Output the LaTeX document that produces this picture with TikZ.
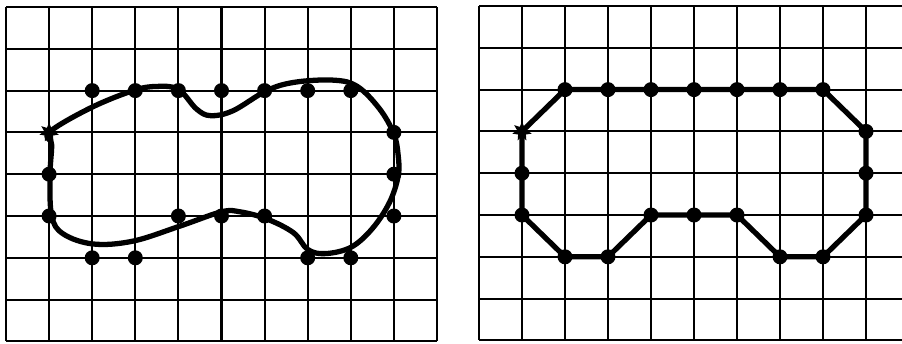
\documentclass[tikz,border=0pt]{standalone}
\usetikzlibrary{shapes.geometric}

\tikzset{
  rejilla/.style={line width=1.2pt},
  contorno/.style={line width=3pt, line join=round},
  punto/.style={circle, fill=black, inner sep=0pt, minimum size=0.3cm},
  inicio/.style={star, star points=7, star point ratio=2.0, fill=black, inner sep=0pt, minimum size=0.4cm},
}

\begin{document}
\begin{tikzpicture}
  \useasboundingbox (0,0) rectangle (18.04,-6.86);
  \clip (0,0) rectangle (18.04,-6.86);

  % contorno libre sobre la malla
  \begin{scope}[shift={(0.12,-0.14)}, x=0.862cm, y=-0.836cm]
    \foreach \i in {0,...,10} \draw[rejilla] (\i,0) -- (\i,8);
    \foreach \j in {0,...,8} \draw[rejilla] (0,\j) -- (10,\j);

    \draw[contorno] plot[smooth cycle, tension=0.6] coordinates {
      (1,3) (1.95,2.42) (2.95,2.0) (3.5,1.9) (4,1.97) (4.42,2.44) (4.75,2.6)
      (5.27,2.48) (6.05,2.0) (6.7,1.8) (7.6,1.75) (8.15,1.9) (8.67,2.44)
      (9.0,3.04) (9.1,3.56) (9.1,4.04) (8.9,4.67) (8.5,5.3) (8,5.75)
      (7.4,5.9) (7,5.8) (6.67,5.4) (6.05,5.07) (5.43,4.9) (5,4.9)
      (4.04,5.24) (2.95,5.6) (2.03,5.67) (1.33,5.43) (1.06,5) (1.02,4.04)
      (1.06,3.3)};

    \foreach \p [count=\k] in {(2,2),(3,2),(4,2),(5,2),(6,2),(7,2),(8,2),
        (9,3),(9,4),(9,5),(8,6),(7,6),(6,5),(5,5),(4,5),(3,6),(2,6),(1,5),(1,4)}
      \node[punto] (L\k) at \p {};
    \node[inicio] (L0) at (1,3) {};
  \end{scope}

  % poligono sobre los puntos de la malla
  \begin{scope}[shift={(9.58,-0.12)}, x=0.86cm, y=-0.836cm]
    \foreach \i in {0,...,10} \draw[rejilla] (\i,0) -- (\i,8);
    \foreach \j in {0,...,8} \draw[rejilla] (0,\j) -- (10,\j);

    \foreach \p [count=\k] in {(2,2),(3,2),(4,2),(5,2),(6,2),(7,2),(8,2),
        (9,3),(9,4),(9,5),(8,6),(7,6),(6,5),(5,5),(4,5),(3,6),(2,6),(1,5),(1,4)}
      \node[punto] (R\k) at \p {};
    \node[inicio] (R0) at (1,3) {};

    \draw[contorno] (R0.center) -- (R1.center) -- (R2.center) -- (R3.center)
      -- (R4.center) -- (R5.center) -- (R6.center) -- (R7.center)
      -- (R8.center) -- (R9.center) -- (R10.center) -- (R11.center)
      -- (R12.center) -- (R13.center) -- (R14.center) -- (R15.center)
      -- (R16.center) -- (R17.center) -- (R18.center) -- (R19.center) -- cycle;
  \end{scope}
\end{tikzpicture}
\end{document}
